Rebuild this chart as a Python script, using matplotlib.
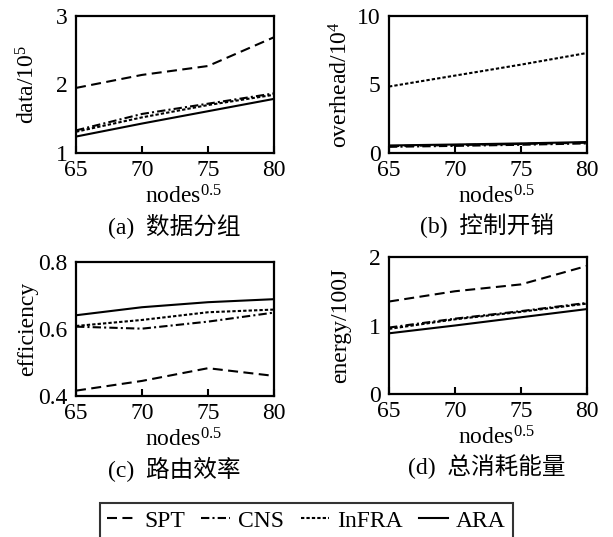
import matplotlib
matplotlib.use("Agg")
import matplotlib.pyplot as plt
from matplotlib.lines import Line2D

plt.rcParams['font.family'] = ['Liberation Serif', 'Noto Sans CJK SC']
plt.rcParams['mathtext.fontset'] = 'custom'
plt.rcParams['mathtext.rm'] = 'Liberation Serif'
plt.rcParams['mathtext.it'] = 'Liberation Serif:italic'
plt.rcParams['mathtext.default'] = 'rm'

W, H = 613, 537
FS = 17

nodes = [65, 70, 75, 80]

data_spt = [1.95, 2.14, 2.27, 2.69]
data_cns = [1.33, 1.57, 1.72, 1.87]
data_infra = [1.31, 1.52, 1.70, 1.85]
data_ara = [1.24, 1.43, 1.61, 1.79]

overhead_spt = [0.50, 0.58, 0.66, 0.75]
overhead_cns = [0.45, 0.52, 0.60, 0.70]
overhead_infra = [4.85, 5.65, 6.45, 7.30]
overhead_ara = [0.55, 0.62, 0.70, 0.80]

eff_spt = [0.416, 0.445, 0.483, 0.460]
eff_cns = [0.607, 0.601, 0.622, 0.649]
eff_infra = [0.609, 0.627, 0.650, 0.658]
eff_ara = [0.641, 0.665, 0.680, 0.689]

energy_spt = [1.35, 1.50, 1.60, 1.87]
energy_cns = [0.97, 1.10, 1.21, 1.33]
energy_infra = [0.95, 1.09, 1.20, 1.32]
energy_ara = [0.886, 1.00, 1.12, 1.24]

names = ['SPT', 'CNS', 'InFRA', 'ARA']
styles = {
    'SPT': (0, (4.8, 2.6)),
    'CNS': (0, (4.0, 1.5, 1.0, 1.5)),
    'InFRA': (0, (1.6, 1.0)),
    'ARA': '-',
}

LW = 1.5

# (left, top, right, bottom) in pixels
panels = [
    dict(box=(76, 16, 274, 153), series=[data_spt, data_cns, data_infra, data_ara],
         ylim=(1, 3), yticks=[1, 2, 3], yticklabels=['1', '2', '3'],
         ylabel=r'data/10$^5$', caption='(a)  数据分组'),
    dict(box=(389, 16, 587, 153), series=[overhead_spt, overhead_cns, overhead_infra, overhead_ara],
         ylim=(0, 10), yticks=[0, 5, 10], yticklabels=['0', '5', '10'],
         ylabel=r'overhead/10$^4$', caption='(b)  控制开销'),
    dict(box=(76, 262, 274, 396), series=[eff_spt, eff_cns, eff_infra, eff_ara],
         ylim=(0.4, 0.8), yticks=[0.4, 0.6, 0.8], yticklabels=['0.4', '0.6', '0.8'],
         ylabel='efficiency', caption='(c)  路由效率'),
    dict(box=(389, 257, 587, 394), series=[energy_spt, energy_cns, energy_infra, energy_ara],
         ylim=(0, 2), yticks=[0, 1, 2], yticklabels=['0', '1', '2'],
         ylabel='energy/100J', caption='(d)  总消耗能量'),
]

fig = plt.figure(figsize=(W / 100, H / 100), dpi=100)

for p in panels:
    l, t, r, b = p['box']
    ax = fig.add_axes([l / W, 1 - b / H, (r - l) / W, (b - t) / H])
    for name, vals in zip(names, p['series']):
        ax.plot(nodes, vals, color='black', lw=LW, linestyle=styles[name])
    ax.set_xlim(65, 80)
    ax.set_ylim(*p['ylim'])
    ax.set_xticks(nodes)
    ax.set_yticks(p['yticks'])
    ax.set_yticklabels(p['yticklabels'])
    ax.tick_params(axis='x', direction='in', length=5, width=1.5, pad=5, labelsize=FS)
    ax.tick_params(axis='y', length=0, pad=6, labelsize=FS)
    for s in ax.spines.values():
        s.set_linewidth(1.6)

    cx = (l + r) / 2
    cy = (t + b) / 2
    fig.text((cx + 9) / W, 1 - (b + 44) / H, r'nodes$^{0.5}$', ha='center', va='center', fontsize=FS)
    fig.text((cx - 1) / W, 1 - (b + 73) / H, p['caption'], ha='center', va='center', fontsize=FS)
    fig.text((l - 48) / W, 1 - cy / H, p['ylabel'], ha='center', va='center', rotation=90, fontsize=FS)

handles = [Line2D([], [], color='black', lw=LW, linestyle=styles[n]) for n in names]
leg = fig.legend(handles, names, loc='upper center', bbox_to_anchor=(0.5, 1 - 503 / H),
                 ncol=4, fontsize=FS, frameon=True, fancybox=False, edgecolor='black',
                 handlelength=1.2, handletextpad=0.35, columnspacing=0.7, borderpad=0.3,
                 borderaxespad=0)
leg.get_frame().set_linewidth(1.5)

fig.savefig('out.png', dpi=100)
